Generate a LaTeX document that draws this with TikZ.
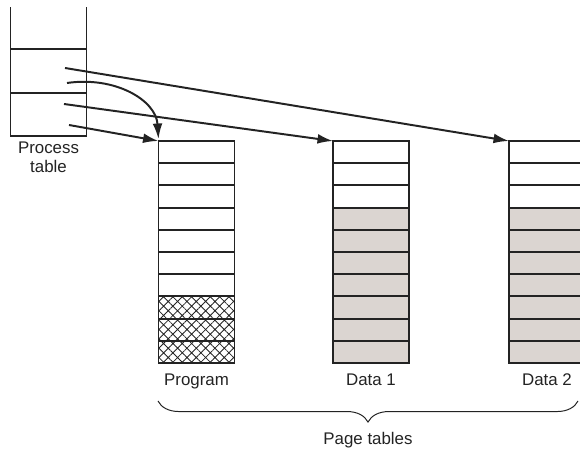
\documentclass[tikz,border=0pt]{standalone}
\usepackage{fontspec}
\setmainfont{Liberation Sans}
\usetikzlibrary{calc,positioning,patterns.meta,decorations.pathreplacing,arrows.meta}
\definecolor{cellgray}{RGB}{219,213,209}
\definecolor{ink}{RGB}{35,35,35}
\tikzstyle{slot} = [draw=ink, line width=1.4pt, rectangle, inner sep=0pt, outer sep=0pt, minimum width=1.9cm, minimum height=0.555cm]
\tikzstyle{shaded} = [fill=cellgray]
\tikzstyle{hatched} = [pattern={Hatch[angle=45,distance=4.7pt,line width=0.6pt]}, pattern color=ink]
\tikzstyle{connector} = [draw=ink, line width=1.4pt, -{Latex[length=11pt,width=7pt]}]
\tikzstyle{caption} = [font=\fontsize{12}{13.5}\selectfont, text=ink]

\begin{document}
\begin{tikzpicture}[x=0.025cm, y=-0.025cm, node distance=4pt]
                \clip (0,0) rectangle (580,451);

                % process table
                \node (pt2) [slot, minimum height=1.1cm] at (48.5,71) {};
                \node (pt3) [slot, minimum height=1.075cm] at (48.5,114.5) {};
                \draw [draw=ink, line width=1.4pt] (pt2.north west) -- ++(0,-42);
                \draw [draw=ink, line width=1.4pt] (pt2.north east) -- ++(0,-42);
                \node (ptname) [caption, align=center, below=1pt of pt3] {Process\\table};

                \coordinate (s1) at (65,68);
                \coordinate (s2) at (67,83);
                \coordinate (s3) at (64,104);
                \coordinate (s4) at (69,125);

                % page tables
                \foreach \i in {1,...,7}
                    \node (prog\i) [slot] at (196.5,{141+22.2*(\i-0.5)}) {};
                \foreach \i in {8,9,10}
                    \node (prog\i) [slot, hatched] at (196.5,{141+22.2*(\i-0.5)}) {};
                \foreach \i in {1,2,3}
                    \node (dat\i) [slot] at (371,{141+22.2*(\i-0.5)}) {};
                \foreach \i in {4,...,10}
                    \node (dat\i) [slot, shaded] at (371,{141+22.2*(\i-0.5)}) {};
                \foreach \i in {1,2,3}
                    \node (datb\i) [slot] at (547,{141+22.2*(\i-0.5)}) {};
                \foreach \i in {4,...,10}
                    \node (datb\i) [slot, shaded] at (547,{141+22.2*(\i-0.5)}) {};

                \node (progname) [caption, below=of prog10] {Program};
                \node (datname) [caption, below=of dat10] {Data 1};
                \node (datbname) [caption, below=of datb10] {Data 2};

                % pointers
                \draw [connector] (s1) -- (datb1.north west);
                \draw [connector] (s2) .. controls (115,76) and (156,100) .. ($(prog1.north west)+(0,-2)$);
                \draw [connector] (s3) -- (dat1.north west);
                \draw [connector] (s4) -- (prog1.north west);

                % brace
                \coordinate (brL) at (158,401);
                \coordinate (brR) at (578,401);
                \draw [draw=ink, line width=0.7pt, decorate, decoration={brace, mirror, amplitude=15pt}] (brL) -- (brR);
                \node (pagetables) [caption] at (368,440) {Page tables};
            \end{tikzpicture}
\end{document}
